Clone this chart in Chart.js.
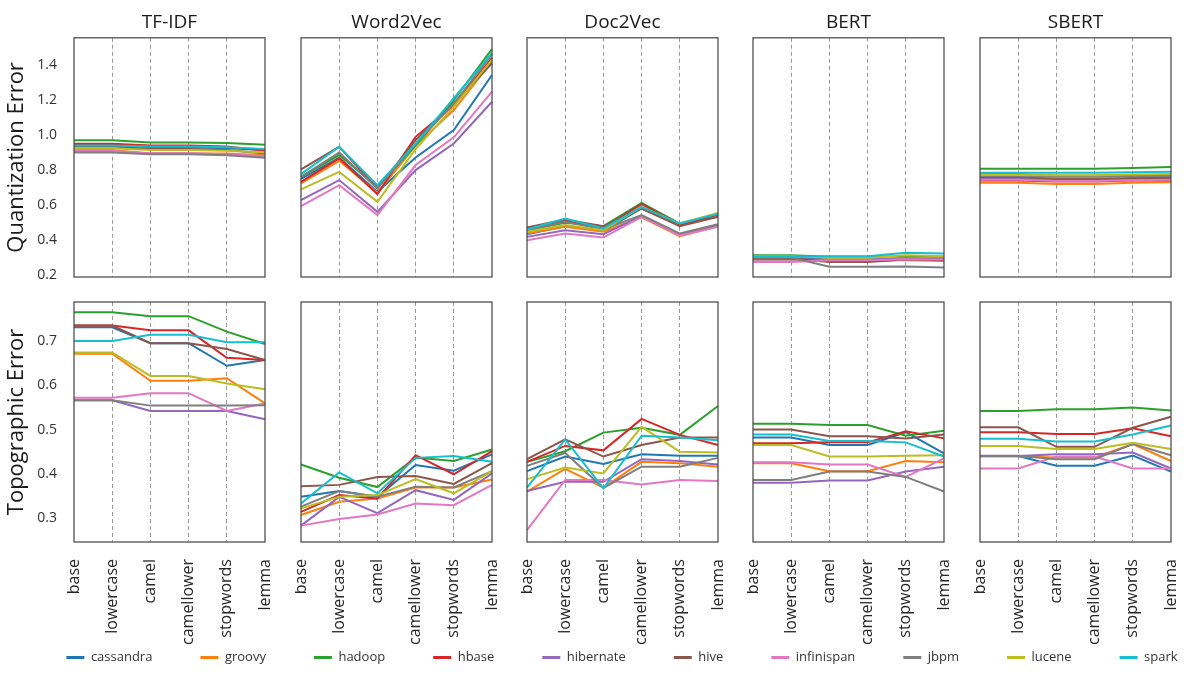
<!DOCTYPE html>
<html>
<head>
<meta charset="utf-8">
<script src="https://cdn.jsdelivr.net/npm/chart.js@4.4.1/dist/chart.umd.min.js"></script>
<style>
  html, body { margin: 0; padding: 0; background: #fff; overflow: hidden; }
  #wrap { position: relative; width: 1192px; height: 674px; overflow: hidden; }
  #wrap canvas { position: absolute; }
</style>
</head>
<body>
<div id="wrap"></div>
<script>
// Preprocessing steps (x axis) and projects (one line each)
const categories = ['base', 'lowercase', 'camel', 'camellower', 'stopwords', 'lemma'];
const projects = ['cassandra', 'groovy', 'hadoop', 'hbase', 'hibernate', 'hive', 'infinispan', 'jbpm', 'lucene', 'spark'];
const palette = ['#1f77b4', '#ff7f0e', '#2ca02c', '#d62728', '#9467bd', '#8c564b', '#e377c2', '#7f7f7f', '#bcbd22', '#17becf'];
const embeddings = ['TF-IDF', 'Word2Vec', 'Doc2Vec', 'BERT', 'SBERT'];
const quantTicks = [0.2, 0.4, 0.6, 0.8, 1.0, 1.2, 1.4];
const topoTicks = [0.3, 0.4, 0.5, 0.6, 0.7];

// Quantization error: one row per project, one value per preprocessing step
const qeTfidf = [
  [0.945, 0.945, 0.930, 0.930, 0.925, 0.915],
  [0.915, 0.915, 0.895, 0.895, 0.895, 0.885],
  [0.970, 0.970, 0.957, 0.957, 0.955, 0.945],
  [0.950, 0.950, 0.940, 0.940, 0.935, 0.910],
  [0.905, 0.905, 0.895, 0.895, 0.890, 0.875],
  [0.935, 0.935, 0.920, 0.920, 0.915, 0.895],
  [0.910, 0.910, 0.895, 0.895, 0.890, 0.880],
  [0.900, 0.900, 0.890, 0.890, 0.885, 0.870],
  [0.925, 0.925, 0.915, 0.915, 0.910, 0.900],
  [0.940, 0.940, 0.935, 0.935, 0.930, 0.920]
];
const qeWord2Vec = [
  [0.750, 0.870, 0.676, 0.872, 1.029, 1.343],
  [0.724, 0.853, 0.670, 0.940, 1.143, 1.420],
  [0.762, 0.886, 0.705, 0.940, 1.200, 1.490],
  [0.733, 0.867, 0.663, 0.990, 1.171, 1.440],
  [0.629, 0.743, 0.562, 0.800, 0.952, 1.190],
  [0.804, 0.933, 0.695, 0.971, 1.181, 1.410],
  [0.594, 0.714, 0.543, 0.829, 0.987, 1.248],
  [0.762, 0.900, 0.695, 0.950, 1.180, 1.460],
  [0.690, 0.790, 0.619, 0.920, 1.162, 1.430],
  [0.777, 0.933, 0.714, 0.950, 1.210, 1.467]
];
const qeDoc2Vec = [
  [0.434, 0.480, 0.453, 0.581, 0.490, 0.533],
  [0.438, 0.476, 0.448, 0.530, 0.423, 0.480],
  [0.457, 0.499, 0.480, 0.613, 0.495, 0.549],
  [0.460, 0.510, 0.470, 0.606, 0.490, 0.545],
  [0.419, 0.457, 0.434, 0.537, 0.434, 0.486],
  [0.472, 0.518, 0.480, 0.581, 0.480, 0.533],
  [0.400, 0.438, 0.415, 0.533, 0.427, 0.476],
  [0.457, 0.505, 0.461, 0.543, 0.438, 0.491],
  [0.448, 0.486, 0.457, 0.590, 0.495, 0.556],
  [0.461, 0.524, 0.467, 0.590, 0.495, 0.549]
];
const qeBert = [
  [0.300, 0.300, 0.290, 0.290, 0.295, 0.290],
  [0.290, 0.290, 0.285, 0.285, 0.285, 0.282],
  [0.314, 0.314, 0.305, 0.305, 0.309, 0.305],
  [0.295, 0.295, 0.280, 0.280, 0.290, 0.286],
  [0.290, 0.290, 0.290, 0.290, 0.295, 0.295],
  [0.295, 0.295, 0.276, 0.276, 0.290, 0.288],
  [0.276, 0.276, 0.286, 0.286, 0.292, 0.290],
  [0.301, 0.301, 0.248, 0.248, 0.250, 0.244],
  [0.309, 0.309, 0.300, 0.300, 0.314, 0.309],
  [0.305, 0.305, 0.308, 0.308, 0.328, 0.324]
];
const qeSbert = [
  [0.777, 0.777, 0.768, 0.768, 0.770, 0.768],
  [0.728, 0.728, 0.720, 0.720, 0.728, 0.730],
  [0.808, 0.808, 0.808, 0.808, 0.812, 0.818],
  [0.740, 0.740, 0.735, 0.735, 0.740, 0.740],
  [0.752, 0.752, 0.745, 0.745, 0.750, 0.748],
  [0.760, 0.760, 0.750, 0.750, 0.755, 0.755],
  [0.745, 0.745, 0.738, 0.738, 0.742, 0.745],
  [0.766, 0.766, 0.762, 0.762, 0.765, 0.766],
  [0.772, 0.772, 0.770, 0.770, 0.775, 0.778],
  [0.785, 0.785, 0.785, 0.785, 0.788, 0.790]
];

// Topographic error: one row per project, one value per preprocessing step
const teTfidf = [
  [0.731, 0.731, 0.695, 0.695, 0.644, 0.657],
  [0.671, 0.671, 0.610, 0.610, 0.616, 0.559],
  [0.765, 0.765, 0.756, 0.756, 0.721, 0.693],
  [0.735, 0.735, 0.724, 0.724, 0.662, 0.657],
  [0.566, 0.566, 0.542, 0.542, 0.542, 0.523],
  [0.735, 0.735, 0.695, 0.695, 0.682, 0.657],
  [0.572, 0.572, 0.582, 0.582, 0.542, 0.559],
  [0.566, 0.566, 0.554, 0.554, 0.554, 0.555],
  [0.674, 0.674, 0.621, 0.621, 0.604, 0.591],
  [0.700, 0.700, 0.714, 0.714, 0.697, 0.697]
];
const teWord2Vec = [
  [0.348, 0.361, 0.348, 0.420, 0.407, 0.444],
  [0.307, 0.337, 0.344, 0.369, 0.369, 0.387],
  [0.421, 0.391, 0.370, 0.437, 0.429, 0.455],
  [0.314, 0.352, 0.344, 0.442, 0.399, 0.451],
  [0.283, 0.348, 0.311, 0.363, 0.341, 0.401],
  [0.372, 0.375, 0.393, 0.395, 0.377, 0.424],
  [0.283, 0.298, 0.308, 0.333, 0.329, 0.375],
  [0.326, 0.361, 0.348, 0.371, 0.369, 0.406],
  [0.322, 0.348, 0.352, 0.388, 0.356, 0.406],
  [0.333, 0.403, 0.356, 0.436, 0.440, 0.427]
];
const teDoc2Vec = [
  [0.406, 0.439, 0.422, 0.444, 0.441, 0.441],
  [0.360, 0.411, 0.369, 0.427, 0.424, 0.416],
  [0.427, 0.451, 0.493, 0.504, 0.488, 0.553],
  [0.427, 0.463, 0.453, 0.524, 0.488, 0.465],
  [0.361, 0.382, 0.382, 0.433, 0.429, 0.421],
  [0.433, 0.478, 0.439, 0.465, 0.482, 0.482],
  [0.273, 0.386, 0.386, 0.376, 0.386, 0.384],
  [0.418, 0.447, 0.368, 0.416, 0.416, 0.436],
  [0.388, 0.414, 0.401, 0.506, 0.450, 0.448],
  [0.369, 0.478, 0.367, 0.486, 0.482, 0.476]
];
const teBert = [
  [0.482, 0.482, 0.465, 0.465, 0.494, 0.446],
  [0.424, 0.424, 0.406, 0.406, 0.429, 0.426],
  [0.513, 0.513, 0.510, 0.510, 0.486, 0.497],
  [0.469, 0.469, 0.471, 0.471, 0.496, 0.480],
  [0.380, 0.380, 0.385, 0.385, 0.405, 0.416],
  [0.500, 0.500, 0.485, 0.485, 0.480, 0.489],
  [0.426, 0.426, 0.421, 0.421, 0.393, 0.435],
  [0.386, 0.386, 0.405, 0.405, 0.393, 0.360],
  [0.465, 0.465, 0.439, 0.439, 0.441, 0.442],
  [0.489, 0.489, 0.474, 0.474, 0.471, 0.439]
];
const teSbert = [
  [0.440, 0.440, 0.418, 0.418, 0.441, 0.405],
  [0.439, 0.439, 0.437, 0.437, 0.467, 0.429],
  [0.542, 0.542, 0.546, 0.546, 0.550, 0.543],
  [0.494, 0.494, 0.490, 0.490, 0.503, 0.485],
  [0.440, 0.440, 0.444, 0.444, 0.448, 0.412],
  [0.505, 0.505, 0.461, 0.461, 0.504, 0.529],
  [0.412, 0.412, 0.439, 0.439, 0.412, 0.412],
  [0.441, 0.441, 0.433, 0.433, 0.467, 0.442],
  [0.463, 0.463, 0.456, 0.456, 0.470, 0.456],
  [0.479, 0.479, 0.473, 0.473, 0.489, 0.509]
];

const rows = [
  { title: 'Quantization Error', ticks: quantTicks, min: 0.19, max: 1.555, series: [qeTfidf, qeWord2Vec, qeDoc2Vec, qeBert, qeSbert] },
  { title: 'Topographic Error', ticks: topoTicks, min: 0.246, max: 0.788, series: [teTfidf, teWord2Vec, teDoc2Vec, teBert, teSbert] }
];

Chart.defaults.font.family = "'Open Sans', 'Noto Sans', sans-serif";
Chart.defaults.color = '#262626';

// Box around each panel's plotting area
const frame = {
  id: 'frame',
  afterDraw(chart) {
    const { ctx, chartArea: a } = chart;
    ctx.save();
    ctx.strokeStyle = '#4a4a4a';
    ctx.lineWidth = 1.25;
    ctx.strokeRect(a.left, a.top, a.right - a.left, a.bottom - a.top);
    ctx.restore();
  }
};

const wrap = document.getElementById('wrap');
const panelLefts = [74, 301, 527, 753, 980];
const panelWidth = 191;

function addCanvas(left, top, width, height) {
  const c = document.createElement('canvas');
  c.width = width; c.height = height;
  c.style.left = left + 'px'; c.style.top = top + 'px';
  c.style.width = width + 'px'; c.style.height = height + 'px';
  wrap.appendChild(c);
  return c;
}

rows.forEach((row, r) => {
  embeddings.forEach((name, col) => {
    const first = col === 0;
    const topRow = r === 0;
    const side = 6;
    const left = first ? 0 : panelLefts[col] - side;
    const width = (first ? panelLefts[0] : side) + panelWidth + (first ? 5 : side);
    const top = topRow ? 0 : 280;
    const height = topRow ? 282 : 370;
    const canvas = addCanvas(left, top, width, height);

    new Chart(canvas, {
      type: 'line',
      data: {
        labels: categories,
        datasets: projects.map((p, i) => ({
          label: p,
          data: row.series[col][i],
          borderColor: palette[i],
          backgroundColor: palette[i],
          borderWidth: 2,
          pointRadius: 0,
          tension: 0,
          order: projects.length - i
        }))
      },
      options: {
        responsive: false,
        animation: false,
        devicePixelRatio: 1,
        events: [],
        layout: {
          padding: {
            left: first ? 0 : side,
            right: first ? 5 : side,
            top: topRow ? 0 : 22,
            bottom: topRow ? 5 : 0
          }
        },
        plugins: {
          legend: { display: false },
          tooltip: { enabled: false },
          title: {
            display: topRow,
            text: name,
            fullSize: false,
            color: '#1a1a1a',
            font: { size: 19, weight: 'normal' },
            padding: { top: 11, bottom: 4 }
          }
        },
        scales: {
          x: {
            type: 'category',
            offset: false,
            grid: {
              display: true,
              drawTicks: false,
              lineWidth: 1,
              color: ctx => (ctx.index === 0 || ctx.index === categories.length - 1) ? 'rgba(0,0,0,0)' : '#9a9a9a'
            },
            border: { display: false, dash: [4, 3] },
            ticks: {
              display: !topRow,
              autoSkip: false,
              minRotation: 90,
              maxRotation: 90,
              padding: 17,
              color: '#262626',
              font: { size: 16 }
            },
            afterFit: s => {
              s.height = topRow ? 0 : 108;
              s.paddingLeft = 0;
              s.paddingRight = 0;
            }
          },
          y: {
            display: first,
            min: row.min,
            max: row.max,
            grid: { display: false, drawTicks: false },
            border: { display: false },
            afterBuildTicks: s => { s.ticks = row.ticks.map(v => ({ value: v })); },
            ticks: {
              padding: 17,
              color: '#333333',
              font: { size: 14 },
              callback: v => Number(v).toFixed(1)
            },
            title: {
              display: true,
              text: row.title,
              color: '#1a1a1a',
              font: { size: 22, weight: 'normal' },
              padding: { top: 4, bottom: 0 }
            },
            afterFit: s => {
              s.width = first ? panelLefts[0] : 0;
              s.paddingTop = 0;
              s.paddingBottom = 0;
            }
          }
        }
      },
      plugins: [frame]
    });
  });
});

// Shared legend along the bottom (canvas wider than the page so one row fits)
const legendCanvas = addCanvas(-78, 526, 1400, 148);
new Chart(legendCanvas, {
  type: 'line',
  data: {
    labels: [],
    datasets: projects.map((p, i) => ({
      label: p,
      data: [],
      borderColor: palette[i],
      backgroundColor: palette[i],
      borderWidth: 0
    }))
  },
  options: {
    responsive: false,
    animation: false,
    devicePixelRatio: 1,
    events: [],
    scales: { x: { display: false }, y: { display: false } },
    plugins: {
      tooltip: { enabled: false },
      legend: {
        position: 'bottom',
        labels: {
          boxWidth: 18,
          boxHeight: 3,
          padding: 48,
          color: '#333333',
          font: { size: 13 }
        }
      }
    }
  }
});
</script>
</body>
</html>
